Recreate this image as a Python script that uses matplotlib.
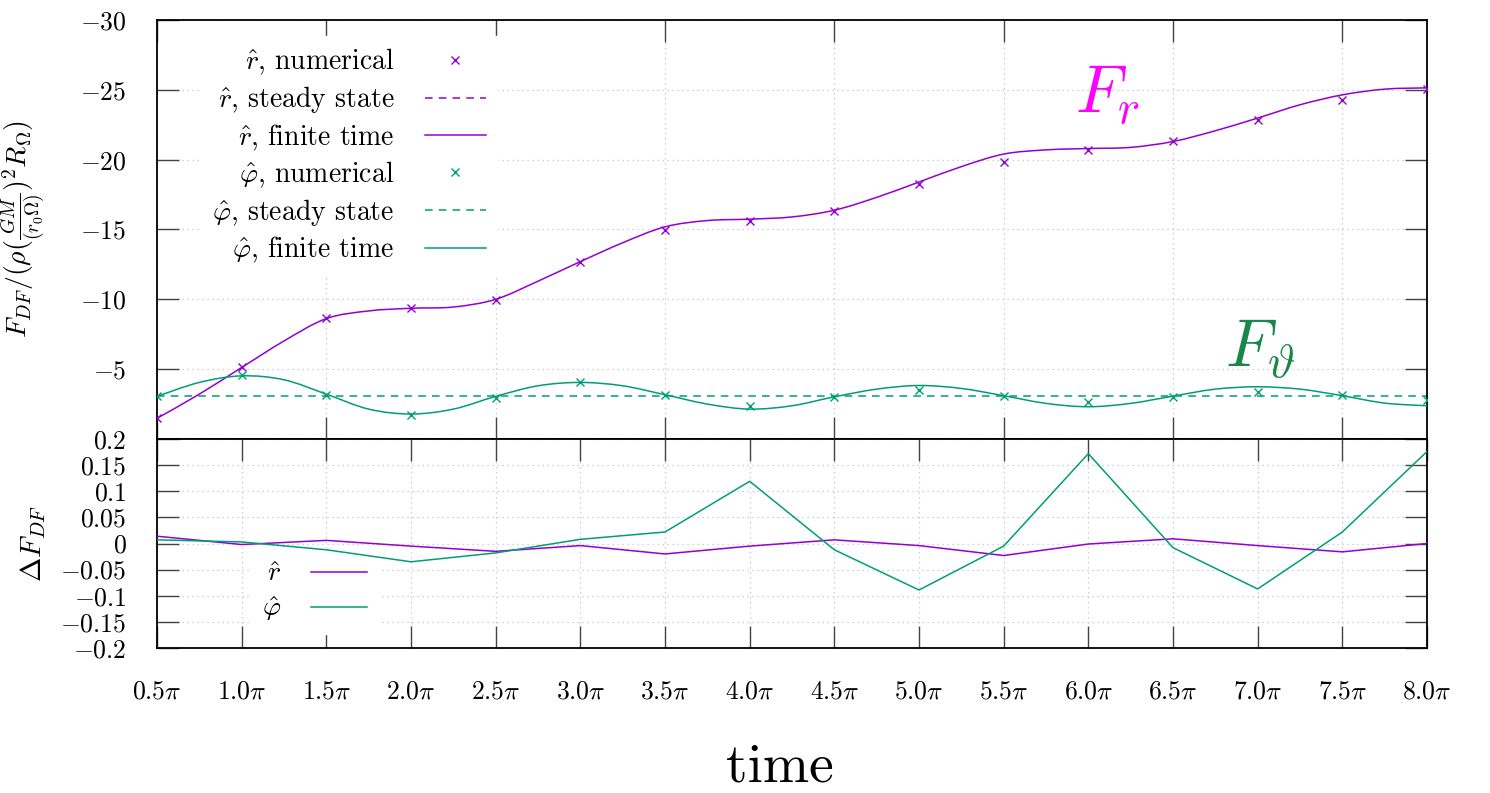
import numpy as np
import matplotlib
matplotlib.use('Agg')
import matplotlib.pyplot as plt
from matplotlib.path import Path
from matplotlib.patches import PathPatch
from matplotlib.lines import Line2D

plt.rcParams['font.family'] = ['cmr10', 'DejaVu Serif']
plt.rcParams['mathtext.fontset'] = 'cm'
plt.rcParams['axes.formatter.use_mathtext'] = True
plt.rcParams['axes.unicode_minus'] = True

# ---------------- data (time in units of pi) ----------------
t_num = [0.5, 1.0, 1.5, 2.0, 2.5, 3.0, 3.5, 4.0, 4.5, 5.0, 5.5, 6.0, 6.5, 7.0, 7.5, 8.0]
r_numerical = [-1.5, -5.14, -8.64, -9.36, -9.93, -12.64, -14.93, -15.64, -16.29,
               -18.29, -19.86, -20.71, -21.36, -22.86, -24.29, -25.07]
phi_numerical = [-3.05, -4.55, -3.17, -1.74, -2.93, -4.07, -3.17, -2.38, -3.0,
                 -3.48, -3.1, -2.67, -3.02, -3.4, -3.14, -2.76]

t_fine = [0.5, 0.75, 1.0, 1.25, 1.5, 1.75, 2.0, 2.25, 2.5, 2.75, 3.0, 3.25, 3.5, 3.75,
          4.0, 4.25, 4.5, 4.75, 5.0, 5.25, 5.5, 5.75, 6.0, 6.25, 6.5, 6.75, 7.0, 7.25,
          7.5, 7.75, 8.0]
r_finite = [-1.48, -3.21, -5.12, -7.02, -8.62, -9.17, -9.36, -9.45, -10.0, -11.3,
            -12.7, -14.05, -15.19, -15.64, -15.74, -15.9, -16.38, -17.3, -18.4, -19.5,
            -20.4, -20.7, -20.8, -20.88, -21.3, -22.07, -22.98, -23.93, -24.64, -25.05,
            -25.14]
phi_finite = [-3.05, -4.05, -4.52, -4.24, -3.21, -2.14, -1.79, -2.14, -3.05, -3.81,
              -4.05, -3.81, -3.17, -2.5, -2.14, -2.38, -3.02, -3.57, -3.83, -3.62,
              -3.1, -2.55, -2.31, -2.55, -3.07, -3.57, -3.74, -3.57, -3.1, -2.57, -2.38]

r_steady = -36.0     # off the visible range
phi_steady = -3.05

delta_r = [0.014, -0.002, 0.006, -0.005, -0.015, -0.004, -0.020, -0.005, 0.007,
           -0.004, -0.023, -0.001, 0.009, -0.004, -0.016, 0.0]
delta_phi = [0.007, 0.003, -0.012, -0.035, -0.018, 0.008, 0.022, 0.119, -0.012,
             -0.089, -0.005, 0.172, -0.008, -0.087, 0.022, 0.176]

top_yticks = [-30, -25, -20, -15, -10, -5, 0]
top_yticklabels = [r'$-30$', r'$-25$', r'$-20$', r'$-15$', r'$-10$', r'$-5$', '']
top_xticks = [0.5, 1.5, 2.5, 3.5, 4.5, 5.5, 6.5, 7.5]
bot_yticks = [0.2, 0.15, 0.1, 0.05, 0.0, -0.05, -0.1, -0.15, -0.2]
bot_yticklabels = [r'$0.2$', r'$0.15$', r'$0.1$', r'$0.05$', r'$0$', r'$-0.05$',
                   r'$-0.1$', r'$-0.15$', r'$-0.2$']
bot_xticks = t_num
bot_xticklabels = [r'$%.1f\pi$' % v for v in t_num]

PURPLE = '#9400d3'
GREEN = '#009e73'
GRID = '#c4c4c4'
TICKFS = 18.5
LEGFS = 20


def smooth_path(x, y):
    """Catmull-Rom spline through the read points, rendered as Bezier path."""
    p = np.column_stack([x, y]).astype(float)
    n = len(p)
    verts = [p[0]]
    codes = [Path.MOVETO]
    for i in range(n - 1):
        p0 = p[i - 1] if i > 0 else p[i]
        p1 = p[i]
        p2 = p[i + 1]
        p3 = p[i + 2] if i + 2 < n else p[i + 1]
        c1 = p1 + (p2 - p0) / 6.0
        c2 = p2 - (p3 - p1) / 6.0
        verts += [c1, c2, p2]
        codes += [Path.CURVE4] * 3
    return Path(verts, codes)


fig = plt.figure(figsize=(14.9, 7.93), dpi=100)
L, W = 157 / 1490, 1270 / 1490
ax1 = fig.add_axes([L, 1 - 439 / 793, W, 419 / 793])
ax2 = fig.add_axes([L, 1 - 648 / 793, W, 209 / 793])

LW = 1.1
# ---------------- top panel ----------------
ax1.plot(t_num, r_numerical, ls='none', marker='x', ms=6, mew=1.0, color=PURPLE, zorder=3)
ax1.axhline(r_steady, color=PURPLE, ls=(0, (5, 4)), lw=LW)
ax1.add_patch(PathPatch(smooth_path(t_fine, r_finite), fill=False, edgecolor=PURPLE,
                        lw=LW, zorder=3))
ax1.plot(t_num, phi_numerical, ls='none', marker='x', ms=6, mew=1.0, color=GREEN, zorder=3)
ax1.axhline(phi_steady, color=GREEN, ls=(0, (5, 4)), lw=LW, zorder=2)
ax1.add_patch(PathPatch(smooth_path(t_fine, phi_finite), fill=False, edgecolor=GREEN,
                        lw=LW, zorder=3))

ax1.set_xlim(0.5, 8.0)
ax1.set_ylim(0, -30)
ax1.set_yticks(top_yticks)
ax1.set_yticklabels(top_yticklabels)
ax1.set_xticks(top_xticks)
ax1.tick_params(axis='both', direction='in', length=16, width=1.0, color='#444444',
                top=True, right=True, labelbottom=False, labelsize=TICKFS, pad=22)
ax1.grid(True, color=GRID, ls=(0, (1, 3)), lw=0.9)
ax1.set_axisbelow(True)
ax1.set_ylabel(r'$F_{DF}/(\rho(\frac{GM}{(r_0\Omega)})^2R_\Omega)$', fontsize=20)
ax1.yaxis.set_label_coords(-0.086, 0.5)

handles1 = [
    Line2D([], [], ls='none', marker='x', ms=6, mew=1.0, color=PURPLE),
    Line2D([], [], ls=(0, (5, 4)), lw=LW, color=PURPLE),
    Line2D([], [], lw=LW, color=PURPLE),
    Line2D([], [], ls='none', marker='x', ms=6, mew=1.0, color=GREEN),
    Line2D([], [], ls=(0, (5, 4)), lw=LW, color=GREEN),
    Line2D([], [], lw=LW, color=GREEN),
]
labels1 = [r'$\hat{r}$, numerical', r'$\hat{r}$, steady state', r'$\hat{r}$, finite time',
           r'$\hat{\varphi}$, numerical', r'$\hat{\varphi}$, steady state',
           r'$\hat{\varphi}$, finite time']
leg1 = ax1.legend(handles1, labels1, loc='upper right', bbox_to_anchor=(0.2677, 0.962),
                  markerfirst=False, fontsize=LEGFS, handlelength=2.2, handletextpad=1.1,
                  labelspacing=0.25, borderpad=0.4, borderaxespad=0, frameon=True,
                  fancybox=False, facecolor='white', edgecolor='white', framealpha=1)
leg1.set_zorder(1)

ax1.text(5.92, -23.4, r'$F_r$', color='#ff00ff', fontsize=48, ha='left', va='baseline')
ax1.text(6.81, -5.2, r'$F_\vartheta$', color='#17874a', fontsize=48, ha='left',
         va='baseline')

for s in ax1.spines.values():
    s.set_linewidth(1.3)

# ---------------- bottom panel ----------------
l_r, = ax2.plot(t_num, delta_r, color=PURPLE, lw=LW, zorder=3)
l_p, = ax2.plot(t_num, delta_phi, color=GREEN, lw=LW, zorder=3)
ax2.set_xlim(0.5, 8.0)
ax2.set_ylim(-0.2, 0.2)
ax2.set_yticks(bot_yticks)
ax2.set_yticklabels(bot_yticklabels)
ax2.set_xticks(bot_xticks)
ax2.set_xticklabels(bot_xticklabels)
ax2.tick_params(axis='both', direction='in', length=16, width=1.0, color='#444444',
                top=True, right=True, labelsize=TICKFS, pad=22)
ax2.tick_params(axis='x', pad=23)
ax2.grid(True, color=GRID, ls=(0, (1, 3)), lw=0.9)
ax2.set_axisbelow(True)
ax2.set_ylabel(r'$\Delta F_{DF}$', fontsize=21)
ax2.yaxis.set_label_coords(-0.086, 0.5)
leg2 = ax2.legend([l_r, l_p], [r'$\hat{r}$', r'$\hat{\varphi}$'], loc='upper right',
                  bbox_to_anchor=(0.174, 0.469), markerfirst=False, fontsize=LEGFS,
                  handlelength=2.0, handletextpad=1.1, labelspacing=0.25, borderpad=0.4,
                  borderaxespad=0, frameon=True, fancybox=False, facecolor='white',
                  edgecolor='white', framealpha=1)
leg2.set_zorder(1)
for s in ax2.spines.values():
    s.set_linewidth(1.3)

fig.text(780 / 1490, 1 - 782 / 793, 'time', fontsize=40, ha='center', va='baseline')

fig.savefig('out.png', dpi=100)
